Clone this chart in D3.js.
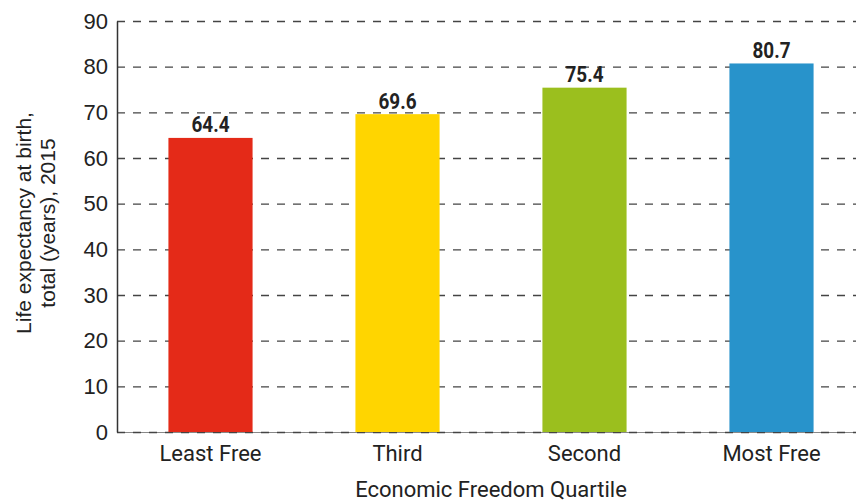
<!DOCTYPE html>
<html><head><meta charset="utf-8">
<script src="https://cdn.jsdelivr.net/npm/d3@7"></script>
<style>body{margin:0;background:#fff}svg{display:block}</style>
</head><body><svg id="c" width="856" height="504"></svg>
<script>
const categories = ["Least Free", "Third", "Second", "Most Free"];
const values = [64.4, 69.6, 75.4, 80.7];
const colors = ["#e42a18", "#ffd500", "#9bbf1e", "#2893cb"];
const yTicks = [0, 10, 20, 30, 40, 50, 60, 70, 80, 90];

(function () {
const svg = d3.select("#c");
const mLeft = 117, mRight = 865, mTop = 21, mBottom = 432;
const x = d3.scaleBand().domain(categories).range([mLeft, mRight]).paddingInner(0.55).paddingOuter(0.275);
const y = d3.scaleLinear().domain([0, 90]).range([mBottom, mTop]);
const font = "Roboto, 'Noto Sans', sans-serif";
const font2 = "'Liberation Sans', Arial, sans-serif";

// baseline (solid under dashes)
svg.append("line").attr("x1", mLeft).attr("x2", 856).attr("y1", mBottom + 0.5).attr("y2", mBottom + 0.5)
  .attr("stroke", "#888").attr("stroke-width", 1.2);

// gridlines
svg.append("g").selectAll("line").data(yTicks).join("line")
  .attr("x1", mLeft).attr("x2", 856)
  .attr("y1", d => y(d) + 0.5).attr("y2", d => y(d) + 0.5)
  .attr("stroke", "#444").attr("stroke-width", 1.3).attr("stroke-dasharray", "8,8");

// bars
svg.append("g").selectAll("rect").data(values).join("rect")
  .attr("x", (d, i) => x(categories[i]))
  .attr("width", x.bandwidth())
  .attr("y", d => y(d))
  .attr("height", d => y(0) - y(d))
  .attr("fill", (d, i) => colors[i]);

// value labels (condensed bold look)
svg.append("g").selectAll("text").data(values).join("text")
  .attr("transform", (d, i) => `translate(${x(categories[i]) + x.bandwidth() / 2},${y(d) - 5.5}) scale(0.86,1)`)
  .attr("text-anchor", "middle")
  .attr("font-family", font).attr("font-weight", "bold").attr("font-size", 22)
  .attr("fill", "#222")
  .text(d => d.toFixed(1));

// y axis
const ya = svg.append("g").attr("transform", `translate(${mLeft},0)`)
  .call(d3.axisLeft(y).tickValues(yTicks).tickSize(0).tickPadding(9));
ya.select(".domain").attr("stroke", "#333").attr("stroke-width", 1.5);
ya.selectAll("text").attr("font-family", font2).attr("font-size", 22).attr("fill", "#222");

// x axis
const xa = svg.append("g").attr("transform", `translate(0,${mBottom})`)
  .call(d3.axisBottom(x).tickSize(0).tickPadding(13));
xa.select(".domain").remove();
xa.selectAll("text").attr("font-family", font).attr("font-size", 22).attr("fill", "#222");

// axis titles
svg.append("text").attr("x", (mLeft + mRight) / 2).attr("y", 497)
  .attr("text-anchor", "middle").attr("font-family", font).attr("font-size", 22).attr("fill", "#222")
  .text("Economic Freedom Quartile");
const yt = svg.append("text").attr("transform", "translate(31,223) rotate(-90)")
  .attr("text-anchor", "middle").attr("font-family", font2).attr("font-size", 21).attr("fill", "#222");
yt.append("tspan").attr("x", 0).attr("dy", 0).text("Life expectancy at birth,");
yt.append("tspan").attr("x", 0).attr("dy", 24).text("total (years), 2015");
})();
</script></body></html>
